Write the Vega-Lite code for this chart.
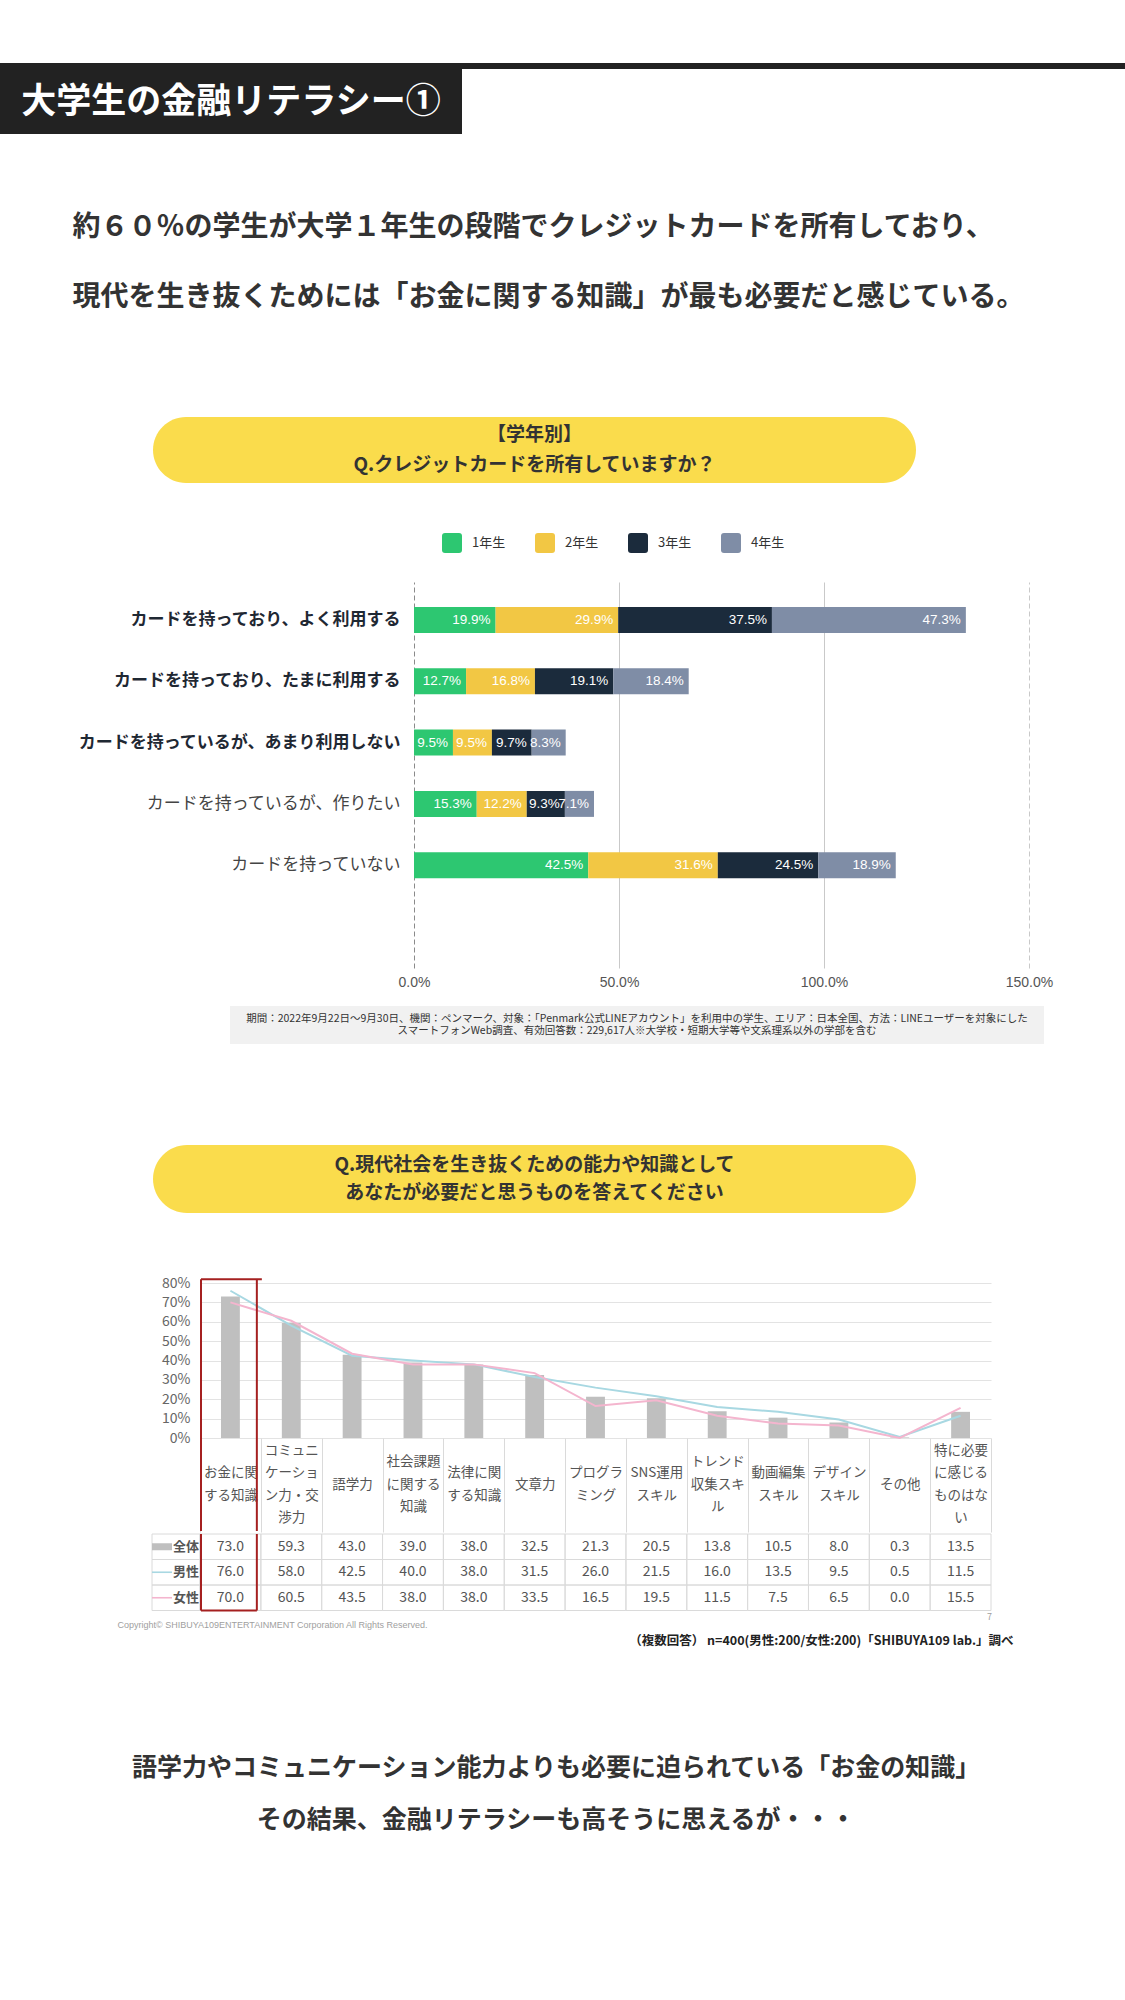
{
  "$schema": "https://vega.github.io/schema/vega-lite/v6.json",
  "padding": 0,
  "background": "white",
  "spacing": 0,
  "bounds": "full",
  "resolve": {"scale": {"color": "independent", "shape": "independent"}, "legend": {"color": "independent", "shape": "independent"}},
  "config": {
    "font": "Noto Sans CJK JP",
    "view": {"stroke": null, "fill": "transparent"},
    "concat": {"spacing": 0},
    "axis": {"labelOverlap": false}
  },
  "datasets": {
    "cards": [
      {"q": "カードを持っており、よく利用する", "grade": "1年生", "v": 0.199},
      {"q": "カードを持っており、よく利用する", "grade": "2年生", "v": 0.299},
      {"q": "カードを持っており、よく利用する", "grade": "3年生", "v": 0.375},
      {"q": "カードを持っており、よく利用する", "grade": "4年生", "v": 0.473},
      {"q": "カードを持っており、たまに利用する", "grade": "1年生", "v": 0.127},
      {"q": "カードを持っており、たまに利用する", "grade": "2年生", "v": 0.168},
      {"q": "カードを持っており、たまに利用する", "grade": "3年生", "v": 0.191},
      {"q": "カードを持っており、たまに利用する", "grade": "4年生", "v": 0.184},
      {"q": "カードを持っているが、あまり利用しない", "grade": "1年生", "v": 0.095},
      {"q": "カードを持っているが、あまり利用しない", "grade": "2年生", "v": 0.095},
      {"q": "カードを持っているが、あまり利用しない", "grade": "3年生", "v": 0.097},
      {"q": "カードを持っているが、あまり利用しない", "grade": "4年生", "v": 0.083},
      {"q": "カードを持っているが、作りたい", "grade": "1年生", "v": 0.153},
      {"q": "カードを持っているが、作りたい", "grade": "2年生", "v": 0.122},
      {"q": "カードを持っているが、作りたい", "grade": "3年生", "v": 0.093},
      {"q": "カードを持っているが、作りたい", "grade": "4年生", "v": 0.071},
      {"q": "カードを持っていない", "grade": "1年生", "v": 0.425},
      {"q": "カードを持っていない", "grade": "2年生", "v": 0.316},
      {"q": "カードを持っていない", "grade": "3年生", "v": 0.245},
      {"q": "カードを持っていない", "grade": "4年生", "v": 0.189}
    ],
    "scores": [
      {"item": "お金に関する知識", "group": "全体", "value": 73.0},
      {"item": "コミュニケーション力・交渉力", "group": "全体", "value": 59.3},
      {"item": "語学力", "group": "全体", "value": 43.0},
      {"item": "社会課題に関する知識", "group": "全体", "value": 39.0},
      {"item": "法律に関する知識", "group": "全体", "value": 38.0},
      {"item": "文章力", "group": "全体", "value": 32.5},
      {"item": "プログラミング", "group": "全体", "value": 21.3},
      {"item": "SNS運用スキル", "group": "全体", "value": 20.5},
      {"item": "トレンド収集スキル", "group": "全体", "value": 13.8},
      {"item": "動画編集スキル", "group": "全体", "value": 10.5},
      {"item": "デザインスキル", "group": "全体", "value": 8.0},
      {"item": "その他", "group": "全体", "value": 0.3},
      {"item": "特に必要に感じるものはない", "group": "全体", "value": 13.5},
      {"item": "お金に関する知識", "group": "男性", "value": 76.0},
      {"item": "コミュニケーション力・交渉力", "group": "男性", "value": 58.0},
      {"item": "語学力", "group": "男性", "value": 42.5},
      {"item": "社会課題に関する知識", "group": "男性", "value": 40.0},
      {"item": "法律に関する知識", "group": "男性", "value": 38.0},
      {"item": "文章力", "group": "男性", "value": 31.5},
      {"item": "プログラミング", "group": "男性", "value": 26.0},
      {"item": "SNS運用スキル", "group": "男性", "value": 21.5},
      {"item": "トレンド収集スキル", "group": "男性", "value": 16.0},
      {"item": "動画編集スキル", "group": "男性", "value": 13.5},
      {"item": "デザインスキル", "group": "男性", "value": 9.5},
      {"item": "その他", "group": "男性", "value": 0.5},
      {"item": "特に必要に感じるものはない", "group": "男性", "value": 11.5},
      {"item": "お金に関する知識", "group": "女性", "value": 70.0},
      {"item": "コミュニケーション力・交渉力", "group": "女性", "value": 60.5},
      {"item": "語学力", "group": "女性", "value": 43.5},
      {"item": "社会課題に関する知識", "group": "女性", "value": 38.0},
      {"item": "法律に関する知識", "group": "女性", "value": 38.0},
      {"item": "文章力", "group": "女性", "value": 33.5},
      {"item": "プログラミング", "group": "女性", "value": 16.5},
      {"item": "SNS運用スキル", "group": "女性", "value": 19.5},
      {"item": "トレンド収集スキル", "group": "女性", "value": 11.5},
      {"item": "動画編集スキル", "group": "女性", "value": 7.5},
      {"item": "デザインスキル", "group": "女性", "value": 6.5},
      {"item": "その他", "group": "女性", "value": 0.0},
      {"item": "特に必要に感じるものはない", "group": "女性", "value": 15.5}
    ],
    "groups": [{"group": "全体"}, {"group": "男性"}, {"group": "女性"}]
  },
  "vconcat": [
    {"width": 1, "height": 63, "data": {"values": []}, "mark": "point"},
    {"width": 1125, "height": 6, "view": {"fill": "#222222"}, "data": {"values": []}, "mark": "point"},
    {
      "width": 462, "height": 65, "view": {"fill": "#222222"},
      "data": {"values": [{"t": "大学生の金融リテラシー①"}]},
      "mark": {"type": "text", "baseline": "middle", "fontSize": 35, "fontWeight": "bold", "color": "#ffffff"},
      "encoding": {"text": {"field": "t"}}
    },
    {
      "bounds": "flush", "spacing": 0,
      "hconcat": [
        {"width": 72, "height": 1, "data": {"values": []}, "mark": "point"},
        {
          "width": 1, "height": 258,
          "data": {"values": [{"t": "約６０％の学生が大学１年生の段階でクレジットカードを所有しており、\n現代を生き抜くためには「お金に関する知識」が最も必要だと感じている。"}]},
          "mark": {"type": "text", "align": "left", "baseline": "middle", "dy": -35, "lineBreak": "\n", "lineHeight": 70, "fontSize": 28, "fontWeight": "bold", "color": "#333333"},
          "encoding": {"text": {"field": "t"}}
        }
      ]
    },
    {"width": 1, "height": 25, "data": {"values": []}, "mark": "point"},
    {
      "bounds": "flush", "spacing": 0,
      "hconcat": [
        {"width": 153, "height": 1, "data": {"values": []}, "mark": "point"},
        {
          "width": 763, "height": 66, "view": {"fill": "#FADC4C", "cornerRadius": 33},
          "data": {"values": [{"t": "【学年別】\nQ.クレジットカードを所有していますか？"}]},
          "mark": {"type": "text", "baseline": "middle", "dy": -15, "lineBreak": "\n", "lineHeight": 30, "fontSize": 19, "fontWeight": "bold", "color": "#333333"},
          "encoding": {"text": {"field": "t"}}
        }
      ]
    },
    {"width": 1, "height": 50, "data": {"values": []}, "mark": "point"},
    {
      "bounds": "flush", "spacing": 0,
      "hconcat": [
        {"width": 414, "height": 1, "data": {"values": []}, "mark": "point"},
        {
          "width": 615, "height": 386,
          "data": {"name": "cards"},
          "layer": [
            {
              "mark": {"type": "bar"},
              "encoding": {
                "y": {
                  "field": "q", "type": "nominal",
                  "scale": {"domain": ["カードを持っており、よく利用する", "カードを持っており、たまに利用する", "カードを持っているが、あまり利用しない", "カードを持っているが、作りたい", "カードを持っていない"], "paddingInner": 0.576, "paddingOuter": 0.937, "align": 0.218},
                  "axis": {
                    "title": null, "domain": false, "ticks": false, "labelFontSize": 17, "labelPadding": 14, "labelLimit": 400,
                    "labelFontWeight": {"condition": {"test": "datum.value == 'カードを持っているが、作りたい' || datum.value == 'カードを持っていない'", "value": "normal"}, "value": "bold"},
                    "labelColor": {"condition": {"test": "datum.value == 'カードを持っているが、作りたい' || datum.value == 'カードを持っていない'", "value": "#444444"}, "value": "#1f2833"}
                  }
                },
                "x": {
                  "field": "v", "type": "quantitative", "stack": "zero",
                  "scale": {"domain": [0, 1.5], "nice": false},
                  "axis": {
                    "title": null, "values": [0, 0.5, 1, 1.5], "tickCount": 4, "format": ".1%", "grid": true, "labelFlush": false,
                    "gridColor": {"condition": {"test": "datum.value == 0", "value": "#8a8a8a"}, "value": "#c9c9c9"},
                    "gridDash": {"condition": {"test": "datum.value == 0 || datum.value == 1.5", "value": [5, 3]}, "value": []},
                    "domain": false, "ticks": false, "labelFontSize": 14, "labelColor": "#555555", "labelPadding": 7, "labelFont": "Liberation Sans"
                  }
                },
                "color": {
                  "field": "grade", "type": "nominal",
                  "scale": {"domain": ["1年生", "2年生", "3年生", "4年生"], "range": ["#2DC771", "#F2C744", "#1B2B3C", "#7F8DA6"]},
                  "legend": {
                    "orient": "none", "legendX": 442, "legendY": -49, "direction": "horizontal", "title": null,
                    "symbolType": "M-0.7,-1H0.7Q1,-1,1,-0.7V0.7Q1,1,0.7,1H-0.7Q-1,1,-1,0.7V-0.7Q-1,-1,-0.7,-1Z",
                    "symbolSize": 400, "symbolStrokeWidth": 0, "symbolOpacity": 1,
                    "labelFontSize": 13, "labelColor": "#333333", "labelOffset": 10, "columnPadding": 29, "padding": 0
                  }
                },
                "order": {"field": "grade", "sort": "ascending"}
              }
            },
            {
              "mark": {"type": "text", "align": "right", "baseline": "middle", "dx": -5, "color": "#ffffff", "fontSize": 13.5, "font": "Liberation Sans"},
              "encoding": {
                "y": {"field": "q", "type": "nominal"},
                "x": {"field": "v", "type": "quantitative", "stack": "zero"},
                "detail": {"field": "grade"},
                "order": {"field": "grade", "sort": "ascending"},
                "text": {"field": "v", "type": "quantitative", "format": ".1%"}
              }
            }
          ]
        }
      ]
    },
    {"width": 1, "height": 16.5, "data": {"values": []}, "mark": "point"},
    {
      "bounds": "flush", "spacing": 0,
      "hconcat": [
        {"width": 230, "height": 1, "data": {"values": []}, "mark": "point"},
        {
          "width": 814, "height": 38, "view": {"fill": "#F1F1F1"},
          "data": {"values": [{"t": "期間：2022年9月22日～9月30日、機関：ペンマーク、対象：「Penmark公式LINEアカウント」を利用中の学生、エリア：日本全国、方法：LINEユーザーを対象にした\nスマートフォンWeb調査、有効回答数：229,617人※大学校・短期大学等や文系理系以外の学部を含む"}]},
          "mark": {"type": "text", "baseline": "middle", "dy": -6, "lineBreak": "\n", "lineHeight": 12, "fontSize": 10.5, "color": "#333333"},
          "encoding": {"text": {"field": "t"}}
        }
      ]
    },
    {"width": 1, "height": 101, "data": {"values": []}, "mark": "point"},
    {
      "bounds": "flush", "spacing": 0,
      "hconcat": [
        {"width": 153, "height": 1, "data": {"values": []}, "mark": "point"},
        {
          "width": 763, "height": 68, "view": {"fill": "#FADC4C", "cornerRadius": 34},
          "data": {"values": [{"t": "Q.現代社会を生き抜くための能力や知識として\nあなたが必要だと思うものを答えてください"}]},
          "mark": {"type": "text", "baseline": "middle", "dy": -14, "lineBreak": "\n", "lineHeight": 28, "fontSize": 19, "fontWeight": "bold", "color": "#333333"},
          "encoding": {"text": {"field": "t"}}
        }
      ]
    },
    {"width": 1, "height": 63, "data": {"values": []}, "mark": "point"},
    {
      "bounds": "flush", "spacing": 0,
      "hconcat": [
        {"width": 200, "height": 1, "data": {"values": []}, "mark": "point"},
        {
          "width": 791, "height": 155,
          "data": {"name": "scores"},
          "layer": [
            {
              "transform": [{"filter": "datum.group == '全体'"}],
              "mark": {"type": "bar", "width": {"band": 0.31}, "color": "#BFBFBF"},
              "encoding": {
                "x": {
                  "field": "item", "type": "nominal",
                  "scale": {"domain": ["お金に関する知識", "コミュニケーション力・交渉力", "語学力", "社会課題に関する知識", "法律に関する知識", "文章力", "プログラミング", "SNS運用スキル", "トレンド収集スキル", "動画編集スキル", "デザインスキル", "その他", "特に必要に感じるものはない"], "paddingInner": 0, "paddingOuter": 0},
                  "axis": {
                    "title": null, "domain": false, "tickBand": "extent", "tickSize": 94, "tickColor": "#DADADA", "tickWidth": 1,
                    "labelExpr": "{'お金に関する知識':['お金に関','する知識'],'コミュニケーション力・交渉力':['コミュニ','ケーショ','ン力・交','渉力'],'語学力':['語学力'],'社会課題に関する知識':['社会課題','に関する','知識'],'法律に関する知識':['法律に関','する知識'],'文章力':['文章力'],'プログラミング':['プログラ','ミング'],'SNS運用スキル':['SNS運用','スキル'],'トレンド収集スキル':['トレンド','収集スキ','ル'],'動画編集スキル':['動画編集','スキル'],'デザインスキル':['デザイン','スキル'],'その他':['その他'],'特に必要に感じるものはない':['特に必要','に感じる','ものはな','い']}[datum.value]",
                    "labelBaseline": "middle",
                    "labelPadding": {
                      "condition": [
                        {"test": "datum.value == 'コミュニケーション力・交渉力' || datum.value == '特に必要に感じるものはない'", "value": -81.75},
                        {"test": "datum.value == '社会課題に関する知識' || datum.value == 'トレンド収集スキル'", "value": -70.5},
                        {"test": "datum.value == '語学力' || datum.value == '文章力' || datum.value == 'その他'", "value": -48}
                      ],
                      "value": -59.25
                    },
                    "labelLineHeight": 22.5, "labelFontSize": 13.5, "labelColor": "#555555",
                    "labelAngle": 0, "labelOverlap": false, "labelLimit": 0, "grid": false
                  }
                },
                "y": {
                  "field": "value", "type": "quantitative",
                  "scale": {"domain": [0, 80], "nice": false},
                  "axis": {
                    "title": null, "values": [0, 10, 20, 30, 40, 50, 60, 70, 80], "tickCount": 9, "labelExpr": "datum.value + '%'", "labelOverlap": false,
                    "domain": false, "ticks": false, "grid": true, "gridColor": "#E3E3E3", "labelFontSize": 14, "labelColor": "#666666", "labelPadding": 10, "labelFlush": false
                  }
                }
              }
            },
            {
              "transform": [{"filter": "datum.group != '全体'"}],
              "mark": {"type": "line", "strokeWidth": 2},
              "encoding": {
                "x": {"field": "item", "type": "nominal"},
                "y": {"field": "value", "type": "quantitative"},
                "color": {"field": "group", "type": "nominal", "scale": {"domain": ["男性", "女性"], "range": ["#A8D8E2", "#F4B5CE"]}, "legend": null},
                "order": {"value": null}
              }
            },
            {
              "transform": [{"filter": "datum.group == '全体' && datum.item == 'お金に関する知識'"}],
              "mark": {"type": "rect", "fill": "transparent", "stroke": "#A52020", "strokeWidth": 2, "xOffset": 1, "x2Offset": -4},
              "encoding": {
                "x": {"field": "item", "type": "nominal"},
                "y": {"datum": 82},
                "y2": {"datum": 82}
              }
            },
            {
              "transform": [{"filter": "datum.group == '全体' && datum.item == 'お金に関する知識'"}],
              "mark": {"type": "rule", "color": "#A52020", "strokeWidth": 2, "xOffset": 1},
              "encoding": {
                "x": {"field": "item", "type": "nominal", "bandPosition": 0},
                "y": {"datum": 82},
                "y2": {"datum": -48}
              }
            },
            {
              "transform": [{"filter": "datum.group == '全体' && datum.item == 'お金に関する知識'"}],
              "mark": {"type": "rule", "color": "#A52020", "strokeWidth": 2, "xOffset": -4},
              "encoding": {
                "x": {"field": "item", "type": "nominal", "bandPosition": 1},
                "y": {"datum": 82},
                "y2": {"datum": -48}
              }
            }
          ]
        }
      ]
    },
    {
      "bounds": "flush", "spacing": 0,
      "hconcat": [
        {"width": 152, "height": 1, "data": {"values": []}, "mark": "point"},
        {
          "width": 48, "height": 76.5,
          "data": {"name": "groups"},
          "layer": [
            {
              "mark": {"type": "rect", "fill": "transparent", "stroke": "#DADADA", "strokeWidth": 1},
              "encoding": {
                "y": {"field": "group", "type": "nominal", "scale": {"domain": ["全体", "男性", "女性"], "paddingInner": 0, "paddingOuter": 0}, "axis": null}
              }
            },
            {
              "mark": {"type": "point", "filled": true, "size": 400, "opacity": 1, "xOffset": -14},
              "encoding": {
                "y": {"field": "group", "type": "nominal"},
                "shape": {"field": "group", "type": "nominal", "scale": {"domain": ["全体", "男性", "女性"], "range": ["M-1,-0.35H1V0.35H-1Z", "M-1,-0.08H1V0.08H-1Z", "M-1,-0.08H1V0.08H-1Z"]}, "legend": null},
                "color": {"field": "group", "type": "nominal", "scale": {"domain": ["全体", "男性", "女性"], "range": ["#BFBFBF", "#A8D8E2", "#F4B5CE"]}, "legend": null}
              }
            },
            {
              "mark": {"type": "text", "align": "right", "baseline": "middle", "dx": 23, "fontSize": 13, "fontWeight": "bold", "color": "#555555"},
              "encoding": {
                "y": {"field": "group", "type": "nominal"},
                "text": {"field": "group"}
              }
            }
          ]
        },
        {
          "width": 791, "height": 76.5,
          "data": {"name": "scores"},
          "layer": [
            {
              "mark": {"type": "rect", "fill": "transparent", "stroke": "#DADADA", "strokeWidth": 1},
              "encoding": {
                "x": {"field": "item", "type": "nominal", "scale": {"domain": ["お金に関する知識", "コミュニケーション力・交渉力", "語学力", "社会課題に関する知識", "法律に関する知識", "文章力", "プログラミング", "SNS運用スキル", "トレンド収集スキル", "動画編集スキル", "デザインスキル", "その他", "特に必要に感じるものはない"], "paddingInner": 0, "paddingOuter": 0}, "axis": null},
                "y": {"field": "group", "type": "nominal", "scale": {"domain": ["全体", "男性", "女性"], "paddingInner": 0, "paddingOuter": 0}, "axis": null}
              }
            },
            {
              "mark": {"type": "text", "baseline": "middle", "fontSize": 14, "color": "#555555"},
              "encoding": {
                "x": {"field": "item", "type": "nominal"},
                "y": {"field": "group", "type": "nominal"},
                "text": {"field": "value", "type": "quantitative", "format": ".1f"}
              }
            },
            {
              "transform": [{"filter": "datum.group == '女性' && datum.item == 'お金に関する知識'"}],
              "mark": {"type": "rule", "color": "#A52020", "strokeWidth": 2, "xOffset": 1},
              "encoding": {"x": {"field": "item", "type": "nominal", "bandPosition": 0}}
            },
            {
              "transform": [{"filter": "datum.group == '女性' && datum.item == 'お金に関する知識'"}],
              "mark": {"type": "rule", "color": "#A52020", "strokeWidth": 2, "xOffset": -4},
              "encoding": {"x": {"field": "item", "type": "nominal", "bandPosition": 1}}
            },
            {
              "transform": [{"filter": "datum.group == '女性' && datum.item == 'お金に関する知識'"}],
              "mark": {"type": "rule", "color": "#A52020", "strokeWidth": 2, "xOffset": 1, "x2Offset": -4},
              "encoding": {
                "x": {"field": "item", "type": "nominal", "bandPosition": 0},
                "x2": {"field": "item", "bandPosition": 1},
                "y": {"field": "group", "type": "nominal", "bandPosition": 1}
              }
            }
          ]
        }
      ]
    },
    {"width": 1, "height": 1, "data": {"values": []}, "mark": "point"},
    {
      "bounds": "flush", "spacing": 0,
      "hconcat": [
        {"width": 117, "height": 1, "data": {"values": []}, "mark": "point"},
        {
          "width": 1, "height": 10,
          "data": {"values": [{"t": "Copyright© SHIBUYA109ENTERTAINMENT Corporation All Rights Reserved."}]},
          "mark": {"type": "text", "align": "left", "baseline": "middle", "fontSize": 9, "color": "#A0A0A0", "font": "Liberation Sans"},
          "encoding": {"text": {"field": "t"}}
        },
        {"width": 871, "height": 1, "data": {"values": []}, "mark": "point"},
        {
          "width": 1, "height": 10,
          "data": {"values": [{"t": "7"}]},
          "mark": {"type": "text", "baseline": "middle", "dy": -8, "fontSize": 9, "color": "#A0A0A0"},
          "encoding": {"text": {"field": "t"}}
        }
      ]
    },
    {
      "bounds": "flush", "spacing": 0,
      "hconcat": [
        {"width": 1013, "height": 1, "data": {"values": []}, "mark": "point"},
        {
          "width": 1, "height": 22,
          "data": {"values": [{"t": "（複数回答） n=400(男性:200/女性:200)「SHIBUYA109 lab.」調べ"}]},
          "mark": {"type": "text", "align": "right", "baseline": "middle", "fontSize": 12.5, "fontWeight": "bold", "color": "#222222"},
          "encoding": {"text": {"field": "t"}}
        }
      ]
    },
    {"width": 1, "height": 89, "data": {"values": []}, "mark": "point"},
    {
      "width": 1112, "height": 106,
      "data": {"values": [{"t": "語学力やコミュニケーション能力よりも必要に迫られている「お金の知識」\nその結果、金融リテラシーも高そうに思えるが・・・"}]},
      "mark": {"type": "text", "baseline": "middle", "dy": -26, "lineBreak": "\n", "lineHeight": 52, "fontSize": 25, "fontWeight": "bold", "color": "#333333"},
      "encoding": {"text": {"field": "t"}}
    }
  ]
}
